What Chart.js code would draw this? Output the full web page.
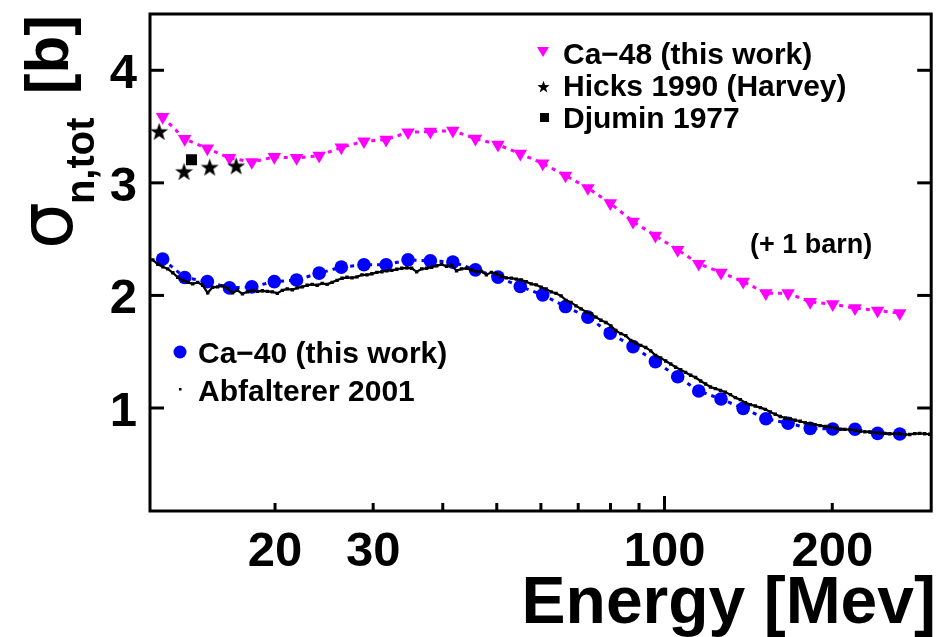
<!DOCTYPE html>
<html>
<head>
<meta charset="utf-8">
<title>Total neutron cross section, Ca-40 / Ca-48</title>
<script src="https://cdn.jsdelivr.net/npm/chart.js@4.4.0/dist/chart.umd.min.js"></script>
<style>
  html, body { margin: 0; padding: 0; background: #fff; }
  canvas { display: block; }
</style>
</head>
<body>
<canvas id="xs" width="939" height="637"></canvas>
<script>
// energies of the Ca-40 / Ca-48 points (MeV)
const energy = [12.57, 13.77, 15.12, 16.57, 18.17, 19.94, 21.86, 24.0, 26.30, 28.88, 31.65, 34.65, 38.0, 41.7,
  45.78, 50.25, 55.1, 60.46, 66.43, 72.86, 79.91, 87.80, 96.3, 105.6, 115.2, 126.3, 138.4, 152.0, 166.6, 182.6,
  200.4, 219.7, 241.2, 264.3];
// Ca-48, shifted up by one barn
const ca48 = [3.586, 3.390, 3.306, 3.221, 3.185, 3.230, 3.221, 3.241, 3.315, 3.369, 3.384, 3.449, 3.455, 3.464,
  3.393, 3.339, 3.259, 3.172, 3.065, 2.954, 2.820, 2.656, 2.530, 2.405, 2.281, 2.203, 2.123, 2.020, 2.020, 1.943,
  1.922, 1.887, 1.865, 1.842];
const ca40 = [2.323, 2.159, 2.123, 2.067, 2.076, 2.123, 2.137, 2.198, 2.251, 2.272, 2.272, 2.316, 2.307, 2.296,
  2.227, 2.163, 2.079, 2.005, 1.901, 1.807, 1.664, 1.545, 1.412, 1.278, 1.151, 1.080, 0.997, 0.905, 0.864, 0.819,
  0.813, 0.811, 0.775, 0.769];

const hicksE = [12.39, 13.73, 15.27, 17.03];
const hicksSigma = [3.458, 3.102, 3.141, 3.152];
const djuminE = [14.16];
const djuminSigma = [3.206];

// Abfalterer 2001, Ca-40
const abfE = [12.07, 12.32, 12.58, 12.84, 13.11, 13.38, 13.66, 13.94, 14.23, 14.53, 14.83, 15.14, 15.45, 15.77,
  16.10, 16.43, 16.78, 17.12, 17.48, 17.84, 18.22, 18.60, 18.98, 19.38, 19.78, 20.19, 20.61, 21.04, 21.48, 21.92,
  22.38, 22.84, 23.32, 23.80, 24.30, 24.80, 25.32, 25.84, 26.38, 26.93, 27.49, 28.06, 28.64, 29.24, 29.84, 30.46,
  31.10, 31.74, 32.40, 33.08, 33.76, 34.47, 35.18, 35.91, 36.66, 37.42, 38.20, 38.99, 39.80, 40.63, 41.48, 42.34,
  43.22, 44.12, 45.04, 45.97, 46.93, 47.90, 48.90, 49.92, 50.95, 52.01, 53.09, 54.20, 55.32, 56.47, 57.65, 58.85,
  60.07, 61.32, 62.59, 63.89, 65.22, 66.58, 67.96, 69.37, 70.82, 72.29, 73.79, 75.32, 76.89, 78.49, 80.12, 81.78,
  83.48, 85.22, 86.99, 88.80, 90.64, 92.53, 94.45, 96.41, 98.42, 100.5, 102.6, 104.7, 106.9, 109.1, 111.4, 113.7,
  116.1, 118.5, 120.9, 123.4, 126.0, 128.6, 131.3, 134.0, 136.8, 139.7, 142.6, 145.5, 148.6, 151.7, 154.8, 158.0,
  161.3, 164.7, 168.1, 171.6, 175.2, 178.8, 182.5, 186.3, 190.2, 194.2, 198.2, 202.3, 206.5, 210.8, 215.2, 219.7,
  224.3, 228.9, 233.7, 238.5, 243.5, 248.5, 253.7, 259.0, 264.4, 269.9, 275.5, 281.2, 287.0, 293.0, 299.1];
const abfSigma = [2.316, 2.276, 2.254, 2.236, 2.201, 2.161, 2.134, 2.116, 2.103, 2.116, 2.090, 2.023, 2.072, 2.076,
  2.085, 2.063, 2.023, 2.045, 2.014, 2.032, 2.045, 2.036, 2.041, 2.036, 2.032, 2.018, 2.045, 2.058, 2.050, 2.067,
  2.076, 2.090, 2.098, 2.090, 2.107, 2.098, 2.116, 2.134, 2.152, 2.161, 2.156, 2.165, 2.183, 2.183, 2.192, 2.205,
  2.210, 2.219, 2.223, 2.232, 2.241, 2.245, 2.241, 2.210, 2.236, 2.241, 2.250, 2.263, 2.276, 2.259, 2.267, 2.219,
  2.236, 2.241, 2.227, 2.210, 2.214, 2.183, 2.205, 2.192, 2.170, 2.156, 2.154, 2.145, 2.138, 2.121, 2.103, 2.094,
  2.072, 2.058, 2.032, 2.018, 1.996, 1.956, 1.938, 1.907, 1.881, 1.854, 1.836, 1.807, 1.780, 1.760, 1.729, 1.688,
  1.661, 1.643, 1.599, 1.575, 1.556, 1.538, 1.507, 1.466, 1.445, 1.418, 1.391, 1.362, 1.340, 1.316, 1.291, 1.271,
  1.240, 1.213, 1.187, 1.172, 1.157, 1.140, 1.119, 1.092, 1.074, 1.047, 1.030, 1.018, 1.003, 0.988, 0.964, 0.944,
  0.925, 0.911, 0.902, 0.891, 0.882, 0.869, 0.860, 0.852, 0.843, 0.836, 0.831, 0.822, 0.811, 0.810, 0.808, 0.801,
  0.793, 0.789, 0.787, 0.782, 0.778, 0.775, 0.771, 0.772, 0.771, 0.763, 0.765, 0.772, 0.775, 0.771, 0.767];

// axis ticks
const xTicks = [20, 30, 40, 50, 60, 70, 80, 90, 100, 200];
const xTickLabels = [20, 30, 100, 200];
const xLongTicks = [100];
const yTicks = [1, 2, 3, 4];

const MAGENTA = '#ff00ff';
const BLUE = '#0000ff';
const FONT = '"Liberation Sans", Arial, Helvetica, sans-serif';

const pts = (xs, ys) => xs.map((x, i) => ({ x: x, y: ys[i] }));

// filled five-pointed star for the Hicks points
function starCanvas(size) {
  const c = document.createElement('canvas');
  c.width = size; c.height = size;
  const g = c.getContext('2d');
  const cx = size / 2, cy = size / 2 + size * 0.05, ro = size * 0.5, ri = ro * 0.4;
  g.beginPath();
  for (let i = 0; i < 10; i++) {
    const r = i % 2 ? ri : ro;
    const a = -Math.PI / 2 + i * Math.PI / 5;
    g.lineTo(cx + r * Math.cos(a), cy + r * Math.sin(a));
  }
  g.closePath();
  g.fillStyle = '#000';
  g.fill();
  return c;
}
const bigStar = starCanvas(19);
const smallStar = starCanvas(13);

function line(ctx, x1, y1, x2, y2) {
  ctx.beginPath(); ctx.moveTo(x1, y1); ctx.lineTo(x2, y2); ctx.stroke();
}

const decorations = {
  id: 'decorations',
  afterDatasetsDraw(chart) {
    const { ctx, chartArea: a, scales: { x, y } } = chart;
    ctx.save();
    ctx.strokeStyle = '#000';
    ctx.lineWidth = 3;
    ctx.strokeRect(a.left, a.top, a.right - a.left, a.bottom - a.top);

    yTicks.forEach(v => {
      const py = y.getPixelForValue(v);
      line(ctx, a.left, py, a.left + 14, py);
      line(ctx, a.right, py, a.right - 14, py);
    });
    xTicks.forEach(v => {
      const px = x.getPixelForValue(v);
      line(ctx, px, a.bottom, px, a.bottom - (xLongTicks.includes(v) ? 15 : 8));
    });

    ctx.fillStyle = '#000';
    ctx.font = 'bold 49px ' + FONT;
    ctx.textBaseline = 'alphabetic';
    ctx.textAlign = 'center';
    xTickLabels.forEach(v => ctx.fillText(String(v), x.getPixelForValue(v), 566));
    ctx.textAlign = 'right';
    yTicks.forEach(v => ctx.fillText(String(v), 137, y.getPixelForValue(v) + 18));

    // x title
    ctx.font = 'bold 66px ' + FONT;
    ctx.textAlign = 'right';
    ctx.fillText('Energy [Mev]', 936, 623);

    // y title, rotated
    ctx.save();
    ctx.translate(72, 249);
    ctx.rotate(-Math.PI / 2);
    ctx.textAlign = 'left';
    ctx.font = '74px "DejaVu Sans", sans-serif';
    ctx.fillText('σ', 0, 0);
    const w = ctx.measureText('σ').width;
    ctx.font = 'bold 40px ' + FONT;
    ctx.fillText('n,tot', w - 2, 22);
    ctx.font = 'bold 62px ' + FONT;
    ctx.textAlign = 'right';
    ctx.fillText('[b]', 234, -4);
    ctx.restore();

    // legend, upper right
    ctx.textAlign = 'left';
    ctx.font = 'bold 30px ' + FONT;
    ctx.fillText('Ca\u221248 (this work)', 563, 64);
    ctx.fillText('Hicks 1990 (Harvey)', 563, 96);
    ctx.fillText('Djumin 1977', 563, 128);
    ctx.fillStyle = MAGENTA;
    ctx.beginPath();
    ctx.moveTo(537, 47); ctx.lineTo(549, 47); ctx.lineTo(543, 57); ctx.closePath(); ctx.fill();
    ctx.drawImage(smallStar, 537, 80);
    ctx.fillStyle = '#000';
    ctx.fillRect(540, 113, 9, 9);

    // legend, lower left
    ctx.font = 'bold 30px ' + FONT;
    ctx.fillText('Ca\u221240 (this work)', 198, 363);
    ctx.fillText('Abfalterer 2001', 198, 401);
    ctx.fillStyle = BLUE;
    ctx.beginPath(); ctx.arc(180, 352, 6.5, 0, Math.PI * 2); ctx.fill();
    ctx.fillStyle = '#000';
    ctx.fillRect(179, 388, 2.5, 2.5);

    ctx.font = 'bold 27px ' + FONT;
    ctx.fillText('(+ 1 barn)', 750, 253);
    ctx.restore();
  }
};

new Chart(document.getElementById('xs'), {
  type: 'scatter',
  data: {
    datasets: [
      {
        label: 'Hicks 1990 (Harvey)',
        data: pts(hicksE, hicksSigma),
        pointStyle: bigStar,
        order: 0
      },
      {
        label: 'Djumin 1977',
        data: pts(djuminE, djuminSigma),
        pointStyle: 'rect',
        pointRadius: 7.8,
        backgroundColor: '#000',
        borderWidth: 0,
        order: 1
      },
      {
        label: 'Ca-48 (this work)',
        data: pts(energy, ca48),
        showLine: true,
        borderColor: MAGENTA,
        borderWidth: 3,
        borderDash: [4, 5],
        pointStyle: 'triangle',
        rotation: 180,
        pointRadius: 7.8,
        pointBackgroundColor: MAGENTA,
        pointBorderWidth: 0,
        order: 2
      },
      {
        label: 'Abfalterer 2001',
        data: pts(abfE, abfSigma),
        showLine: true,
        borderColor: '#000',
        borderWidth: 2.2,
        pointStyle: 'rect',
        pointRadius: 2.4,
        pointBackgroundColor: '#000',
        pointBorderWidth: 0,
        order: 3
      },
      {
        label: 'Ca-40 (this work)',
        data: pts(energy, ca40),
        showLine: true,
        borderColor: BLUE,
        borderWidth: 3,
        borderDash: [4, 5],
        pointStyle: 'circle',
        pointRadius: 6.8,
        pointBackgroundColor: BLUE,
        pointBorderWidth: 0,
        order: 4
      }
    ]
  },
  options: {
    responsive: false,
    devicePixelRatio: 1,
    animation: false,
    layout: { padding: { top: 14, right: 4, left: 0, bottom: 0 } },
    plugins: { legend: { display: false }, tooltip: { enabled: false } },
    scales: {
      x: {
        type: 'logarithmic',
        min: 11.93,
        max: 301,
        grid: { display: false },
        border: { display: false },
        ticks: { display: false },
        afterFit: s => { s.height = 126; }
      },
      y: {
        min: 0.085,
        max: 4.5,
        grid: { display: false },
        border: { display: false },
        ticks: { display: false },
        afterFit: s => { s.width = 150; }
      }
    }
  },
  plugins: [decorations]
});
</script>
</body>
</html>
